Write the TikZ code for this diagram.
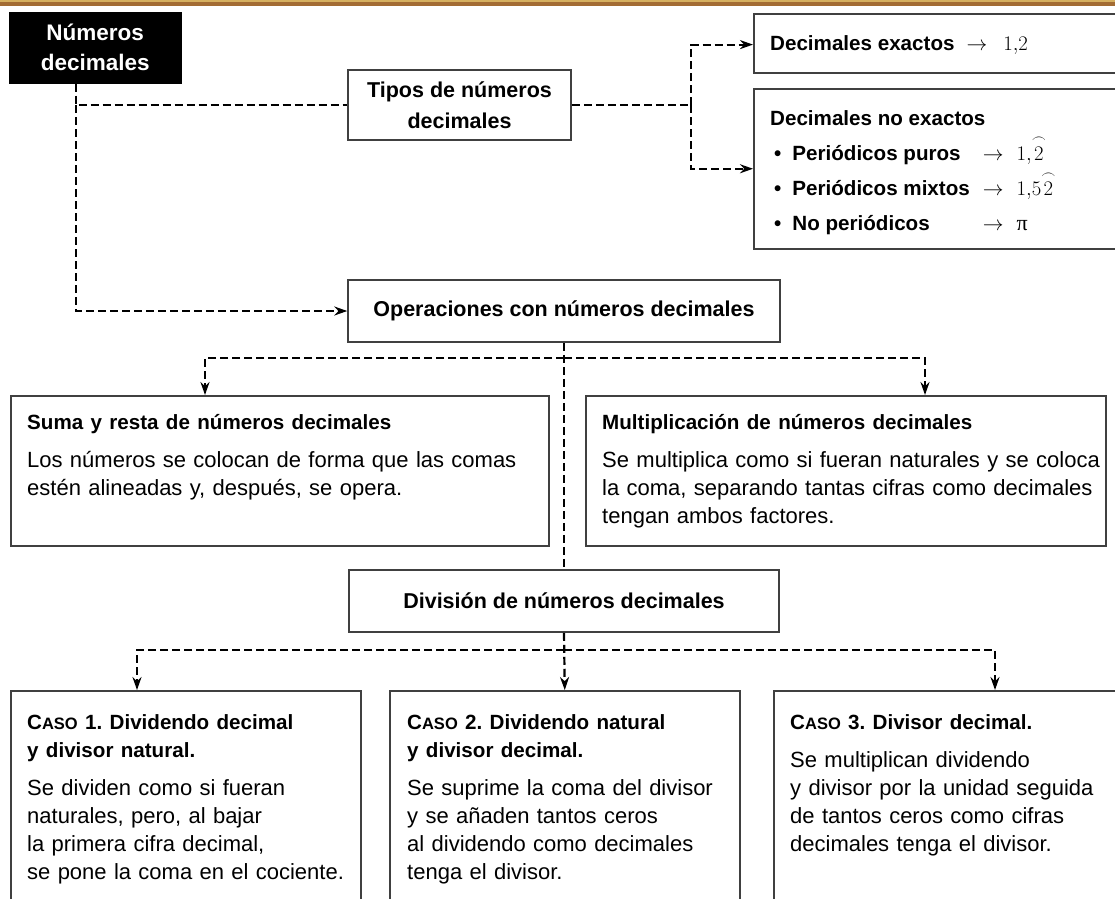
\documentclass[tikz,border=0pt]{standalone}
\usepackage[no-math]{fontspec}
\setmainfont{Liberation Sans}
\newfontfamily\pifont{Liberation Serif}
\usepackage{amsmath}
\usetikzlibrary{shapes,arrows.meta,calc}
\definecolor{bandbrown}{RGB}{163,108,52}
\definecolor{bandgold}{RGB}{214,176,96}
\definecolor{boxgray}{RGB}{64,64,64}
\frenchspacing
\newcommand{\hd}{\fontsize{20.6}{28}\selectfont\bfseries}
\newcommand{\hdd}{\fontsize{20.6}{35}\selectfont\bfseries}
\newcommand{\hdm}{\fontsize{21.5}{31}\selectfont\bfseries}
\newcommand{\bd}{\fontsize{22}{28}\selectfont\mdseries}
\newcommand{\caso}[1]{C{\fontsize{16.5}{28}\selectfont ASO}~#1.}
\newcommand{\arco}[1]{\overset{\frown}{#1}}
\tikzset{
block/.style = {draw=boxgray, line width=1.5pt, fill=white, rectangle, anchor=north west, inner sep=0pt},
mid/.style = {draw=boxgray, line width=1.5pt, fill=white, rectangle, align=center, inner sep=0pt, font=\hdm},
txt/.style = {anchor=north west, inner sep=0pt, align=left, font=\bd},
tmp/.style = {coordinate},
dashline/.style = {line width=2.2pt, dash pattern=on 8pt off 4pt}
}

\begin{document}
\begin{tikzpicture}[x=1pt, y=-1pt, >={Stealth[length=13pt,width=9pt]}]
\useasboundingbox (0,0) rectangle (1115,898);
\fill[bandbrown] (0,0) rectangle (1115,6);
\fill[bandgold] (0,0) rectangle (1115,1.5);

% cabecera
\node [block, fill=black, draw=black, minimum width=171pt, minimum height=70pt, text=white, align=center,
       font=\fontsize{22.5}{30}\selectfont\bfseries] (titulo) at (9,12) {Números\\decimales};
\node [mid, minimum width=223pt, minimum height=70pt] (tipos) at (459.5,105) {Tipos de números\\decimales};
\node [block, minimum width=400pt, minimum height=59pt] (exactos) at (753,13) {};
\node [block, minimum width=400pt, minimum height=160pt] (noexactos) at (753,88) {};
\node [txt] (exactostxt) at (770,30.4) {\hd\strut Decimales exactos\hspace{12pt}$\rightarrow$\hspace{16pt}$1{,}2$};
\node [txt] (noexactostxt) at (770,100.5) {\hdd\begin{tabular}{@{}l@{\hspace{13pt}}l@{\hspace{13pt}}l@{}}
  \multicolumn{3}{@{}l@{}}{Decimales no exactos}\\
  \hspace{4pt}\textbullet\hspace{11pt}Periódicos puros & $\rightarrow$ & $1{,}\arco{2}$\\
  \hspace{4pt}\textbullet\hspace{11pt}Periódicos mixtos & $\rightarrow$ & $1{,}5\arco{2}$\\
  \hspace{4pt}\textbullet\hspace{11pt}No periódicos & $\rightarrow$ & {\pifont\mdseries\fontsize{22}{35}\selectfont π}
\end{tabular}};

% operaciones
\node [mid, minimum width=432pt, minimum height=62pt] (operaciones) at (564,311) {Operaciones con números decimales};
\node [block, minimum width=538pt, minimum height=150pt] (suma) at (10,395) {};
\node [block, minimum width=520pt, minimum height=150pt] (multip) at (585,395) {};
\node [txt, text width=520pt] (sumatxt) at (27,409.4) {\hd\strut Suma y resta de números decimales\\[10pt]
  \bd Los números se colocan de forma que las comas\\
  estén alineadas y, después, se opera.};
\node [txt, text width=500pt] (multiptxt) at (602,409.4) {\hd\strut Multiplicación de números decimales\\[10pt]
  \bd Se multiplica como si fueran naturales y se coloca\\
  la coma, separando tantas cifras como decimales\\
  tengan ambos factores.};

% division
\node [mid, minimum width=430pt, minimum height=62pt] (division) at (564,601) {División de números decimales};
\node [block, minimum width=350pt, minimum height=230pt] (caso1) at (10,690) {};
\node [block, minimum width=350pt, minimum height=230pt] (caso2) at (389,690) {};
\node [block, minimum width=400pt, minimum height=230pt] (caso3) at (773,690) {};
\node [txt, text width=400pt] (caso1txt) at (27,709.4) {\hd\strut\caso{1} Dividendo decimal\\
  y divisor natural.\\[10pt]
  \bd Se dividen como si fueran\\
  naturales, pero, al bajar\\
  la primera cifra decimal,\\
  se pone la coma en el cociente.};
\node [txt, text width=400pt] (caso2txt) at (407,709.4) {\hd\strut\caso{2} Dividendo natural\\
  y divisor decimal.\\[10pt]
  \bd Se suprime la coma del divisor\\
  y se añaden tantos ceros\\
  al dividendo como decimales\\
  tenga el divisor.};
\node [txt, text width=400pt] (caso3txt) at (790,709.4) {\hd\strut\caso{3} Divisor decimal.\\[10pt]
  \bd Se multiplican dividendo\\
  y divisor por la unidad seguida\\
  de tantos ceros como cifras\\
  decimales tenga el divisor.};

% puntos de union
\node [tmp] (j1) at (76,105) {};
\node [tmp] (j3) at (691,105) {};
\node [tmp] (j4) at (564,358) {};
\node [tmp] (j5) at (205,358) {};
\node [tmp] (j6) at (925,358) {};
\node [tmp] (j7) at (564,650) {};
\node [tmp] (j8) at (137,650) {};
\node [tmp] (j9) at (995,650) {};

\draw [dashline] (titulo.south -| j1) -- (j1) -- (tipos.west);
\draw [dashline,->] (j1) |- (operaciones.west);
\draw [dashline] (tipos.east) -- (j3);
\draw [dashline,->] (j3) |- (exactos.west |- exactostxt);
\draw [dashline,->] (j3) |- (noexactos.west);
\draw [dashline] (operaciones.south) -- (division.north);
\draw [dashline,->] (j4) -| (suma.north -| j5);
\draw [dashline,->] (j4) -| (multip.north -| j6);
\draw [dashline,->] (division.south) -- (caso2.north);
\draw [dashline,->] (j7) -| (caso1.north -| j8);
\draw [dashline,->] (j7) -| (caso3.north -| j9);
\end{tikzpicture}
\end{document}
